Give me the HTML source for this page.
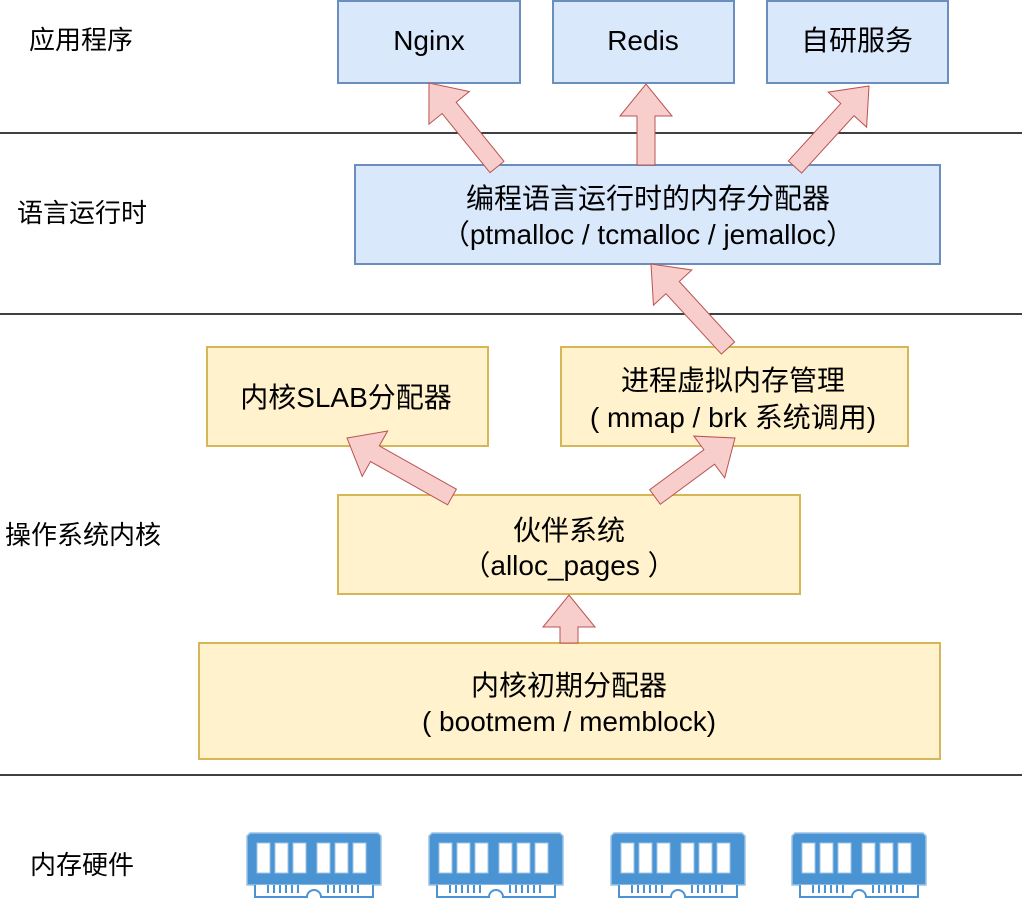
<!DOCTYPE html>
<html><head><meta charset="utf-8"><style>
html,body{margin:0;padding:0;background:#fff;}
svg{display:block;}
text{font-family:"Liberation Sans","Noto Sans CJK SC",sans-serif;fill:#000;}
</style></head><body>
<svg id="s" width="1026" height="900" viewBox="0 0 1026 900" xmlns="http://www.w3.org/2000/svg">
<g stroke="#000" stroke-width="1.5">
<line x1="0" y1="133" x2="1022" y2="133"/>
<line x1="0" y1="314" x2="1022" y2="314"/>
<line x1="0" y1="775" x2="1022" y2="775"/>
</g>
<g font-size="26">
<text x="29" y="49">应用程序</text>
<text x="17" y="222">语言运行时</text>
<text x="5" y="544">操作系统内核</text>
<text x="30" y="874">内存硬件</text>
</g>
<g fill="#dae8fc" stroke="#6c8ebf" stroke-width="2">
<rect x="338" y="1" width="182" height="82"/>
<rect x="553" y="1" width="181" height="82"/>
<rect x="767" y="1" width="181" height="82"/>
<rect x="355" y="165" width="585" height="99"/>
</g>
<g fill="#fff2cc" stroke="#d6b656" stroke-width="2">
<rect x="207" y="347" width="281" height="99"/>
<rect x="561" y="347" width="347" height="99"/>
<rect x="338" y="495" width="462" height="99"/>
<rect x="199" y="643" width="741" height="116"/>
</g>
<g font-size="28" text-anchor="middle">
<text x="429" y="50">Nginx</text>
<text x="643" y="50">Redis</text>
<text x="857" y="50">自研服务</text>
<text x="648" y="208">编程语言运行时的内存分配器</text>
<text x="648" y="244">（ptmalloc / tcmalloc / jemalloc）</text>
<text x="346" y="407">内核SLAB分配器</text>
<text x="733" y="390">进程虚拟内存管理</text>
<text x="733" y="427">( mmap / brk 系统调用)</text>
<text x="569" y="540">伙伴系统</text>
<text x="569" y="575">（alloc_pages ）</text>
<text x="569" y="695">内核初期分配器</text>
<text x="569" y="731">( bootmem / memblock)</text>
</g>
<g id="arrows" fill="#f8cecc" stroke="#b85450" stroke-width="1"></g>
<g id="mem"></g>
</svg>
<script>
var A=[[497,167,429,83],[646,165,646,84],[795,167,869,86],[728,348,651,264],[452,497,347,438],[655,497,735,438],[569,643,569,595]];
var g=document.getElementById('arrows'),ns='http://www.w3.org/2000/svg';
A.forEach(function(a){var dx=a[2]-a[0],dy=a[3]-a[1],L=Math.hypot(dx,dy),ux=dx/L,uy=dy/L,px=-uy,py=ux,sw=9,hw=26,hl=32;
var bx=a[2]-ux*hl,by=a[3]-uy*hl;
var pts=[[a[0]+px*sw,a[1]+py*sw],[bx+px*sw,by+py*sw],[bx+px*hw,by+py*hw],[a[2],a[3]],[bx-px*hw,by-py*hw],[bx-px*sw,by-py*sw],[a[0]-px*sw,a[1]-py*sw]];
var p=document.createElementNS(ns,'polygon');p.setAttribute('points',pts.map(function(q){return q.join(',')}).join(' '));g.appendChild(p);});
var m=document.getElementById('mem'),h='';
[247,429,611,792].forEach(function(x){
h+='<path d="M'+(x+3)+',833 h128 l3,3 v49 h-134 v-49z" fill="#4a94d4" stroke="#9cc4e6" stroke-width="1.5"/>';
[10,28,46,70,88,106].forEach(function(o){h+='<rect x="'+(x+o)+'" y="843" width="13" height="30" fill="#fff" stroke="#9cc4e6" stroke-width="1"/>';});
h+='<path d="M'+(x+8)+',885 v12 h52 a7,7 0 0 1 14,0 h52 v-12" fill="#fff" stroke="#4a94d4" stroke-width="2"/>';
for(var i=0;i<6;i++){h+='<rect x="'+(x+20+i*6)+'" y="885" width="2" height="8" fill="#4a94d4"/>';h+='<rect x="'+(x+80+i*6)+'" y="885" width="2" height="8" fill="#4a94d4"/>';}
});
m.innerHTML=h;
</script>
</body></html>
